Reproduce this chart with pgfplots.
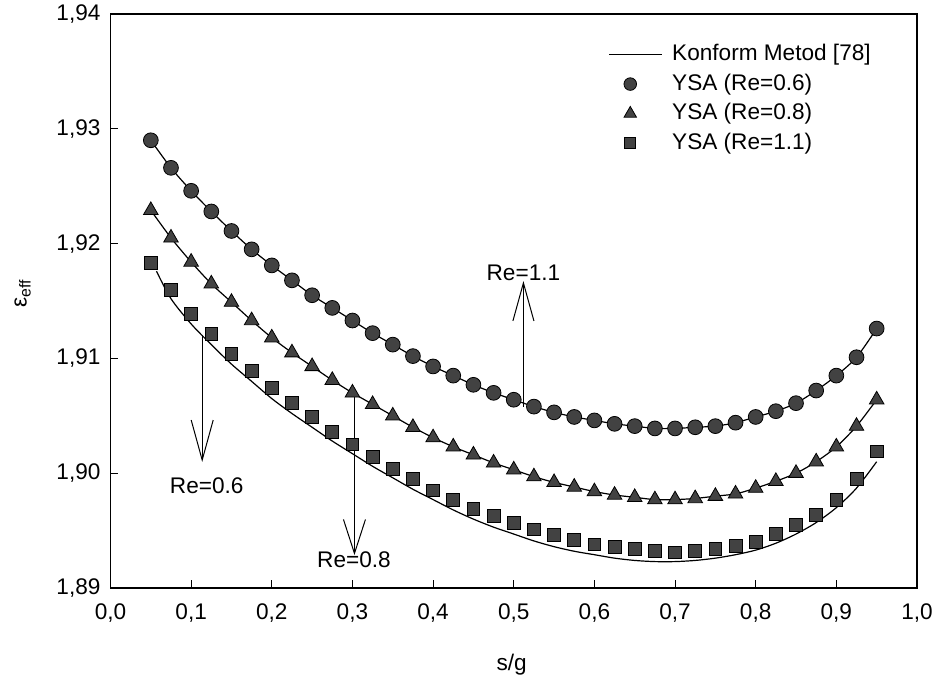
\documentclass[border=0pt]{standalone}
\usepackage{fontspec}
\setmainfont{Liberation Sans}
\usepackage{pgfplots}
\pgfplotsset{compat=1.18}
\usepackage{pgfplotstable}
\usetikzlibrary{arrows.meta}

\pgfplotsset{
  markleg/.style={legend image code/.code={\path (0pt,0pt) (26.5pt,0pt); \draw[##1, every mark/.append style={scale=0.85}] plot coordinates {(10.5pt,0pt)};}},
  lineleg/.style={legend image code/.code={\draw[##1] (0pt,0pt) -- (26.5pt,0pt);}},
}

% YSA results, Re = 0.6
\pgfplotstableread{
x y
0.050 1.9290
0.075 1.9266
0.100 1.9246
0.125 1.9228
0.150 1.9211
0.175 1.9195
0.200 1.9181
0.225 1.9168
0.250 1.9155
0.275 1.9144
0.300 1.9133
0.325 1.9122
0.350 1.9112
0.375 1.9102
0.400 1.9093
0.425 1.9085
0.450 1.9077
0.475 1.9070
0.500 1.9064
0.525 1.9058
0.550 1.9053
0.575 1.9049
0.600 1.9046
0.625 1.9043
0.650 1.9041
0.675 1.9039
0.700 1.9039
0.725 1.9040
0.750 1.9041
0.775 1.9044
0.800 1.9049
0.825 1.9054
0.850 1.9061
0.875 1.9072
0.900 1.9085
0.925 1.9101
0.950 1.9126
}\ysaA

% YSA results, Re = 0.8
\pgfplotstableread{
x y
0.050 1.9229
0.075 1.9205
0.100 1.9184
0.125 1.9165
0.150 1.9149
0.175 1.9133
0.200 1.9118
0.225 1.9105
0.250 1.9093
0.275 1.9081
0.300 1.9070
0.325 1.9060
0.350 1.9050
0.375 1.9040
0.400 1.9031
0.425 1.9023
0.450 1.9016
0.475 1.9009
0.500 1.9003
0.525 1.8997
0.550 1.8992
0.575 1.8988
0.600 1.8984
0.625 1.8981
0.650 1.8979
0.675 1.8977
0.700 1.8977
0.725 1.8978
0.750 1.8980
0.775 1.8982
0.800 1.8987
0.825 1.8993
0.850 1.9000
0.875 1.9010
0.900 1.9023
0.925 1.9041
0.950 1.9064
}\ysaB

% YSA results, Re = 1.1
\pgfplotstableread{
x y
0.050 1.9183
0.075 1.9160
0.100 1.9139
0.125 1.9121
0.150 1.9104
0.175 1.9089
0.200 1.9074
0.225 1.9061
0.250 1.9049
0.275 1.9036
0.300 1.9025
0.325 1.9014
0.350 1.9004
0.375 1.8995
0.400 1.8985
0.425 1.8977
0.450 1.8969
0.475 1.8963
0.500 1.8957
0.525 1.8951
0.550 1.8946
0.575 1.8942
0.600 1.8938
0.625 1.8936
0.650 1.8934
0.675 1.8932
0.700 1.8931
0.725 1.8932
0.750 1.8934
0.775 1.8937
0.800 1.8940
0.825 1.8947
0.850 1.8955
0.875 1.8964
0.900 1.8977
0.925 1.8995
0.950 1.9019
}\ysaC

% Conformal mapping curve, lowest branch
\pgfplotstableread{
x y
0.057 1.9176
0.075 1.9152
0.100 1.9130
0.125 1.9112
0.150 1.9095
0.175 1.9080
0.200 1.9065
0.225 1.9052
0.250 1.9040
0.275 1.9028
0.300 1.9017
0.325 1.9006
0.350 1.8996
0.375 1.8986
0.400 1.8977
0.425 1.8968
0.450 1.8960
0.475 1.8953
0.500 1.8947
0.525 1.8941
0.550 1.8936
0.575 1.8932
0.600 1.8929
0.625 1.8926
0.650 1.8924
0.675 1.8923
0.700 1.8923
0.725 1.8924
0.750 1.8926
0.775 1.8929
0.800 1.8933
0.825 1.8939
0.850 1.8947
0.875 1.8957
0.900 1.8970
0.925 1.8987
0.950 1.9010
}\konformC

\begin{document}
\begin{tikzpicture}[font=\fontsize{11.3}{13.5}\selectfont]
\path[use as bounding box] (-55.25pt,-49pt) rectangle (414.25pt,294pt);
\begin{axis}[
  scale only axis,
  width=403.25pt, height=287pt,
  at={(0pt,0pt)}, anchor=south west,
  xmin=0, xmax=1, ymin=1.89, ymax=1.94,
  xtick={0,0.1,0.2,0.3,0.4,0.5,0.6,0.7,0.8,0.9,1.0},
  ytick={1.89,1.90,1.91,1.92,1.93,1.94},
  xtick pos=left, ytick pos=left,
  tick align=inside,
  major tick length=4pt,
  axis line style={line width=0.6pt},
  tick style={black, line width=0.5pt},
  scaled ticks=false,
  xticklabel style={yshift=-4.5pt, /pgf/number format/.cd, fixed, fixed zerofill, precision=1, use comma, assume math mode=true},
  yticklabel style={xshift=-1.5pt, /pgf/number format/.cd, fixed, fixed zerofill, precision=2, use comma, assume math mode=true},
  xlabel={s/g},
  ylabel={ε\textsubscript{eff}},
  xlabel style={at={(axis description cs:0.4975,-0.134)}, anchor=center},
  ylabel style={at={(axis description cs:-0.109,0.514)}, anchor=center},
  legend style={draw=none, fill=none, at={(axis description cs:0.6172,0.9557)}, anchor=north west,
    inner sep=0pt, row sep=0pt, /tikz/column sep=2.8pt,
    nodes={inner sep=1.875pt, text height=8.5pt, text depth=2.5pt, anchor=west}},
  legend cell align=left,
]
\addplot[black, line width=0.6pt, smooth, lineleg] table[x=x,y=y] {\ysaA};
\addlegendentry{Konform Metod [78]}
\addplot[black, line width=0.6pt, smooth, forget plot] table[x=x,y=y] {\ysaB};
\addplot[black, line width=0.6pt, smooth, forget plot] table[x=x,y=y] {\konformC};

\addplot[only marks, mark=*, mark size=3.7pt, mark options={fill=black!74, draw=black, line width=0.4pt}, markleg]
  table[x=x,y=y] {\ysaA};
\addlegendentry{YSA (Re=0.6)}
\addplot[only marks, mark=triangle*, mark size=4.2pt, mark options={fill=black!74, draw=black, line width=0.4pt}, markleg]
  table[x=x,y=y] {\ysaB};
\addlegendentry{YSA (Re=0.8)}
\addplot[only marks, mark=square*, mark size=3.2pt, mark options={fill=black!74, draw=black, line width=0.4pt}, markleg]
  table[x=x,y=y] {\ysaC};
\addlegendentry{YSA (Re=1.1)}

% annotation arrows and labels
\draw[line width=0.5pt, -{Straight Barb[length=19pt, width=10.5pt]}] (axis cs:0.512,1.90577) -- (axis cs:0.512,1.91674);
\node at (axis cs:0.512,1.91744) {Re=1.1};
\draw[line width=0.5pt, -{Straight Barb[length=20pt, width=11pt]}] (axis cs:0.1137,1.91204) -- (axis cs:0.1137,1.90098);
\node at (axis cs:0.1193,1.89889) {Re=0.6};
\draw[line width=0.5pt, -{Straight Barb[length=17pt, width=11pt]}] (axis cs:0.3025,1.90664) -- (axis cs:0.3025,1.89287);
\node at (axis cs:0.3019,1.89244) {Re=0.8};
\end{axis}
\end{tikzpicture}
\end{document}
